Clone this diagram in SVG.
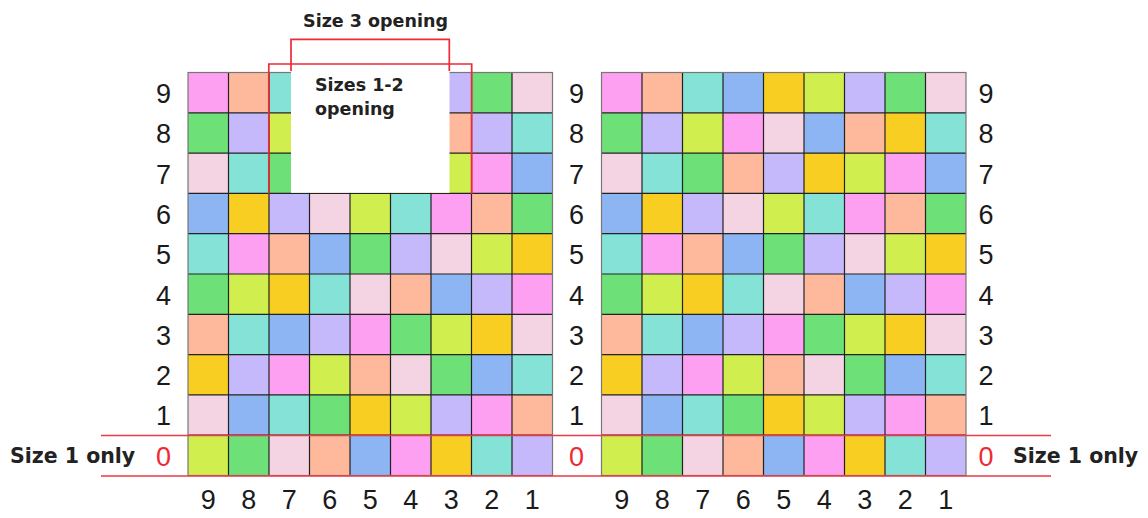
<svg xmlns="http://www.w3.org/2000/svg" xmlns:xlink="http://www.w3.org/1999/xlink" width="1148" height="518" viewBox="0 0 1148 518">
<style>
.P{fill:#FDA0F1}.S{fill:#FEB89B}.T{fill:#84E2D7}.B{fill:#8DB5F3}.Y{fill:#F9CE22}.L{fill:#D1EE4F}.V{fill:#C5B9FB}.G{fill:#6EE078}.K{fill:#F4D3E3}
.gl{stroke:#222;stroke-width:1.2;fill:none}
.ob{stroke:#777;stroke-width:1.2;fill:none}
.red{stroke:#EE2A36;stroke-width:1.7;fill:none}
.redh{stroke:#EC3A46;stroke-width:1.7;fill:none}
.num{font-family:"Liberation Sans",Arial,sans-serif;font-size:27px;fill:#1a1a1a;text-anchor:middle}
.zero{font-family:"Liberation Sans",Arial,sans-serif;font-size:27px;fill:#EE2A36;text-anchor:middle}
.lbl{font-family:"DejaVu Sans",Verdana,sans-serif;font-weight:bold;fill:#222}
</style>
<defs>
<g id="cells">
<rect class="P" x="0" y="0" width="40.5" height="40.3"/><rect class="S" x="40.5" y="0" width="40.5" height="40.3"/><rect class="T" x="81" y="0" width="40.5" height="40.3"/><rect class="B" x="121.5" y="0" width="40.5" height="40.3"/><rect class="Y" x="162" y="0" width="40.5" height="40.3"/><rect class="L" x="202.5" y="0" width="40.5" height="40.3"/><rect class="V" x="243" y="0" width="40.5" height="40.3"/><rect class="G" x="283.5" y="0" width="40.5" height="40.3"/><rect class="K" x="324" y="0" width="40.5" height="40.3"/>
<rect class="G" x="0" y="40.3" width="40.5" height="40.3"/><rect class="V" x="40.5" y="40.3" width="40.5" height="40.3"/><rect class="L" x="81" y="40.3" width="40.5" height="40.3"/><rect class="P" x="121.5" y="40.3" width="40.5" height="40.3"/><rect class="K" x="162" y="40.3" width="40.5" height="40.3"/><rect class="B" x="202.5" y="40.3" width="40.5" height="40.3"/><rect class="S" x="243" y="40.3" width="40.5" height="40.3"/><rect class="Y" x="283.5" y="40.3" width="40.5" height="40.3"/><rect class="T" x="324" y="40.3" width="40.5" height="40.3"/>
<rect class="K" x="0" y="80.6" width="40.5" height="40.3"/><rect class="T" x="40.5" y="80.6" width="40.5" height="40.3"/><rect class="G" x="81" y="80.6" width="40.5" height="40.3"/><rect class="S" x="121.5" y="80.6" width="40.5" height="40.3"/><rect class="V" x="162" y="80.6" width="40.5" height="40.3"/><rect class="Y" x="202.5" y="80.6" width="40.5" height="40.3"/><rect class="L" x="243" y="80.6" width="40.5" height="40.3"/><rect class="P" x="283.5" y="80.6" width="40.5" height="40.3"/><rect class="B" x="324" y="80.6" width="40.5" height="40.3"/>
<rect class="B" x="0" y="120.9" width="40.5" height="40.3"/><rect class="Y" x="40.5" y="120.9" width="40.5" height="40.3"/><rect class="V" x="81" y="120.9" width="40.5" height="40.3"/><rect class="K" x="121.5" y="120.9" width="40.5" height="40.3"/><rect class="L" x="162" y="120.9" width="40.5" height="40.3"/><rect class="T" x="202.5" y="120.9" width="40.5" height="40.3"/><rect class="P" x="243" y="120.9" width="40.5" height="40.3"/><rect class="S" x="283.5" y="120.9" width="40.5" height="40.3"/><rect class="G" x="324" y="120.9" width="40.5" height="40.3"/>
<rect class="T" x="0" y="161.2" width="40.5" height="40.3"/><rect class="P" x="40.5" y="161.2" width="40.5" height="40.3"/><rect class="S" x="81" y="161.2" width="40.5" height="40.3"/><rect class="B" x="121.5" y="161.2" width="40.5" height="40.3"/><rect class="G" x="162" y="161.2" width="40.5" height="40.3"/><rect class="V" x="202.5" y="161.2" width="40.5" height="40.3"/><rect class="K" x="243" y="161.2" width="40.5" height="40.3"/><rect class="L" x="283.5" y="161.2" width="40.5" height="40.3"/><rect class="Y" x="324" y="161.2" width="40.5" height="40.3"/>
<rect class="G" x="0" y="201.5" width="40.5" height="40.3"/><rect class="L" x="40.5" y="201.5" width="40.5" height="40.3"/><rect class="Y" x="81" y="201.5" width="40.5" height="40.3"/><rect class="T" x="121.5" y="201.5" width="40.5" height="40.3"/><rect class="K" x="162" y="201.5" width="40.5" height="40.3"/><rect class="S" x="202.5" y="201.5" width="40.5" height="40.3"/><rect class="B" x="243" y="201.5" width="40.5" height="40.3"/><rect class="V" x="283.5" y="201.5" width="40.5" height="40.3"/><rect class="P" x="324" y="201.5" width="40.5" height="40.3"/>
<rect class="S" x="0" y="241.8" width="40.5" height="40.3"/><rect class="T" x="40.5" y="241.8" width="40.5" height="40.3"/><rect class="B" x="81" y="241.8" width="40.5" height="40.3"/><rect class="V" x="121.5" y="241.8" width="40.5" height="40.3"/><rect class="P" x="162" y="241.8" width="40.5" height="40.3"/><rect class="G" x="202.5" y="241.8" width="40.5" height="40.3"/><rect class="L" x="243" y="241.8" width="40.5" height="40.3"/><rect class="Y" x="283.5" y="241.8" width="40.5" height="40.3"/><rect class="K" x="324" y="241.8" width="40.5" height="40.3"/>
<rect class="Y" x="0" y="282.1" width="40.5" height="40.3"/><rect class="V" x="40.5" y="282.1" width="40.5" height="40.3"/><rect class="P" x="81" y="282.1" width="40.5" height="40.3"/><rect class="L" x="121.5" y="282.1" width="40.5" height="40.3"/><rect class="S" x="162" y="282.1" width="40.5" height="40.3"/><rect class="K" x="202.5" y="282.1" width="40.5" height="40.3"/><rect class="G" x="243" y="282.1" width="40.5" height="40.3"/><rect class="B" x="283.5" y="282.1" width="40.5" height="40.3"/><rect class="T" x="324" y="282.1" width="40.5" height="40.3"/>
<rect class="K" x="0" y="322.4" width="40.5" height="40.3"/><rect class="B" x="40.5" y="322.4" width="40.5" height="40.3"/><rect class="T" x="81" y="322.4" width="40.5" height="40.3"/><rect class="G" x="121.5" y="322.4" width="40.5" height="40.3"/><rect class="Y" x="162" y="322.4" width="40.5" height="40.3"/><rect class="L" x="202.5" y="322.4" width="40.5" height="40.3"/><rect class="V" x="243" y="322.4" width="40.5" height="40.3"/><rect class="P" x="283.5" y="322.4" width="40.5" height="40.3"/><rect class="S" x="324" y="322.4" width="40.5" height="40.3"/>
<rect class="L" x="0" y="362.7" width="40.5" height="40.3"/><rect class="G" x="40.5" y="362.7" width="40.5" height="40.3"/><rect class="K" x="81" y="362.7" width="40.5" height="40.3"/><rect class="S" x="121.5" y="362.7" width="40.5" height="40.3"/><rect class="B" x="162" y="362.7" width="40.5" height="40.3"/><rect class="P" x="202.5" y="362.7" width="40.5" height="40.3"/><rect class="Y" x="243" y="362.7" width="40.5" height="40.3"/><rect class="T" x="283.5" y="362.7" width="40.5" height="40.3"/><rect class="V" x="324" y="362.7" width="40.5" height="40.3"/>
</g>
<g id="lines">
<path class="gl" d="M40.5,0V403M81,0V403M121.5,0V403M162,0V403M202.5,0V403M243,0V403M283.5,0V403M324,0V403M0,40.3H364.5M0,80.6H364.5M0,120.9H364.5M0,161.2H364.5M0,201.5H364.5M0,241.8H364.5M0,282.1H364.5M0,322.4H364.5M0,362.7H364.5"/>
<rect class="ob" x="0" y="0" width="364.5" height="403"/>
</g>
</defs>
<g id="grid-left">
<use xlink:href="#cells" href="#cells" transform="translate(188,72.5)"/>
<rect class="V" x="471.5" y="112.8" width="40.5" height="40.3"/>
<use xlink:href="#lines" href="#lines" transform="translate(188,72.5)"/>
</g>
<g id="grid-right">
<use xlink:href="#cells" href="#cells" transform="translate(601.5,72.5)"/>
<use xlink:href="#lines" href="#lines" transform="translate(601.5,72.5)"/>
</g>
<g id="openings">
<path class="red" d="M291,71V39.3H449.3V71"/>
<rect x="291" y="71" width="158.5" height="121.8" fill="#fff"/>
<path class="red" d="M268.8,193.8V64H471.7V193.8"/>
</g>
<g id="size1-lines">
<path class="redh" d="M101,435.5H1051M101,476H1051"/>
</g>
<g id="texts">
<text class="lbl" x="375.5" y="26.5" font-size="17.5" text-anchor="middle">Size 3 opening</text>
<text class="lbl" x="315" y="91" font-size="17.5">Sizes 1-2</text>
<text class="lbl" x="315" y="114.5" font-size="17.5">opening</text>
<text class="lbl" x="10" y="462.5" font-size="20.5">Size 1 only</text>
<text class="lbl" x="1013" y="462.5" font-size="20.5">Size 1 only</text>
</g>
<g id="row-labels">
<text class="num" x="163.5" y="103">9</text><text class="num" x="163.5" y="143.3">8</text><text class="num" x="163.5" y="183.6">7</text><text class="num" x="163.5" y="223.9">6</text><text class="num" x="163.5" y="264.2">5</text><text class="num" x="163.5" y="304.5">4</text><text class="num" x="163.5" y="344.8">3</text><text class="num" x="163.5" y="385.1">2</text><text class="num" x="163.5" y="425.4">1</text><text class="zero" x="163.5" y="465.7">0</text>
<text class="num" x="576.5" y="103">9</text><text class="num" x="576.5" y="143.3">8</text><text class="num" x="576.5" y="183.6">7</text><text class="num" x="576.5" y="223.9">6</text><text class="num" x="576.5" y="264.2">5</text><text class="num" x="576.5" y="304.5">4</text><text class="num" x="576.5" y="344.8">3</text><text class="num" x="576.5" y="385.1">2</text><text class="num" x="576.5" y="425.4">1</text><text class="zero" x="576.5" y="465.7">0</text>
<text class="num" x="986" y="103">9</text><text class="num" x="986" y="143.3">8</text><text class="num" x="986" y="183.6">7</text><text class="num" x="986" y="223.9">6</text><text class="num" x="986" y="264.2">5</text><text class="num" x="986" y="304.5">4</text><text class="num" x="986" y="344.8">3</text><text class="num" x="986" y="385.1">2</text><text class="num" x="986" y="425.4">1</text><text class="zero" x="986" y="465.7">0</text>
</g>
<g id="col-labels">
<text class="num" x="208.3" y="508.5">9</text><text class="num" x="248.8" y="508.5">8</text><text class="num" x="289.3" y="508.5">7</text><text class="num" x="329.8" y="508.5">6</text><text class="num" x="370.3" y="508.5">5</text><text class="num" x="410.8" y="508.5">4</text><text class="num" x="451.3" y="508.5">3</text><text class="num" x="491.8" y="508.5">2</text><text class="num" x="532.3" y="508.5">1</text>
<text class="num" x="621.8" y="508.5">9</text><text class="num" x="662.3" y="508.5">8</text><text class="num" x="702.8" y="508.5">7</text><text class="num" x="743.3" y="508.5">6</text><text class="num" x="783.8" y="508.5">5</text><text class="num" x="824.3" y="508.5">4</text><text class="num" x="864.8" y="508.5">3</text><text class="num" x="905.3" y="508.5">2</text><text class="num" x="945.8" y="508.5">1</text>
</g>
</svg>
